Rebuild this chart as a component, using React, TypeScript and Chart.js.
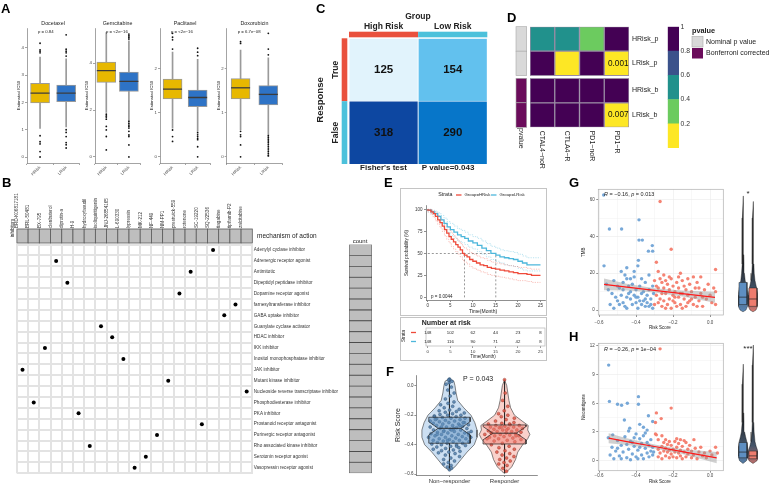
import React, { useEffect, useRef } from 'react';
import { Chart, registerables } from 'chart.js';

Chart.register(...registerables);
const FONT = "'Liberation Sans', Arial, Helvetica, sans-serif";
Chart.defaults.font.family = FONT;
Chart.defaults.color = '#333';
(Chart.defaults.plugins as any).legend.display = false;
(Chart.defaults.plugins as any).tooltip.enabled = false;

/* ================= DATA ================= */
// A — estimated IC50 box plots
const drugs = ['Docetaxel', 'Gemcitabine', 'Paclitaxel', 'Doxorubicin'];
const riskGroups = ['HRisk', 'LRisk'];
const drugPText = ['p = 0.84', 'p = <2e−16', 'p = <2e−16', 'p = 6.7e−08'];
// [lower whisker, Q1, median, Q3, upper whisker] for HRisk, LRisk
const docetaxelBox = [[1.05, 1.98, 2.34, 2.7, 3.66], [1.1, 2.03, 2.34, 2.64, 3.6]];
const gemcitabineBox = [[1.9, 3.18, 3.68, 4.05, 5.3], [1.55, 2.79, 3.22, 3.62, 4.95]];
const paclitaxelBox = [[0.65, 1.32, 1.54, 1.77, 2.38], [0.58, 1.14, 1.35, 1.52, 2.22]];
const doxorubicinBox = [[0.62, 1.32, 1.57, 1.78, 2.43], [0.5, 1.18, 1.42, 1.62, 2.25]];
const docetaxelOut = [[4.17, 3.93, 3.88, 3.82, 0.78, 0.56, 0.48, 0.2, 0.0], [4.48, 3.95, 3.88, 3.82, 3.7, 1.0, 0.9, 0.75, 0.53, 0.45, 0.33]];
const gemcitabineOut = [[1.82, 1.75, 1.7, 1.61, 1.3, 1.15, 0.87, 0.3], [5.24, 5.17, 5.11, 5.03, 1.51, 1.43, 1.36, 1.3, 1.23, 1.09, 0.94, 0.87, 0.51, 0.0]];
const paclitaxelOut = [[2.81, 2.72, 2.66, 2.45, 0.61, 0.46, 0.35], [2.47, 2.38, 2.3, 0.55, 0.5, 0.46, 0.42, 0.39, 0.23, 0.0]];
const doxorubicinOut = [[2.62, 2.58, 0.58, 0.5, 0.46, 0.27, 0.0], [2.81, 2.45, 2.32, 0.48, 0.44, 0.4, 0.36, 0.32, 0.28, 0.24, 0.2, 0.16, 0.12, 0.08, 0.04, 0.02]];
const icTicks = [[0, 1, 2, 3, 4], [0, 2, 4], [0, 1, 2], [0, 1, 2]];
const icLimits = [[-0.22, 4.73], [-0.26, 5.5], [-0.14, 2.93], [-0.14, 2.93]];

// B — connectivity map
const inhibitors = ['BRD-K06817181', 'BRL-50481', 'BX-795', 'clenbuterol', 'diprotin-a', 'H-9', 'hydroxyfasudil', 'isoliquiritigenin', 'JNJ-26854165', 'L-690330', 'lypressin', 'MK-212', 'NF-449', 'NM-PP1', 'prestwick-559', 'rotenone', 'SC-19220', 'SQ-22536', 'tiagabine', 'tipifarnib-P2', 'zalcitabine'];
const mechanisms = ['Adenylyl cyclase inhibitor', 'Adrenergic receptor agonist', 'Antimitotic', 'Dipeptidyl peptidase inhibitor', 'Dopamine receptor agonist', 'farnesyltransferase inhibitor', 'GABA uptake inhibitor', 'Guanylate cyclase activator', 'HDAC inhibitor', 'IKK inhibitor', 'Inositol monophosphatase inhibitor', 'JAK inhibitor', 'Mutant kinase inhibitor', 'Nucleoside reverse transcriptase inhibitor', 'Phosphodiesterase inhibitor', 'PKA inhibitor', 'Prostanoid receptor antagonist', 'Purinergic receptor antagonist', 'Rho associated kinase inhibitor', 'Serotonin receptor agonist', 'Vasopressin receptor agonist'];
const mechanismInhibitor = ['SQ-22536', 'clenbuterol', 'rotenone', 'diprotin-a', 'prestwick-559', 'tipifarnib-P2', 'tiagabine', 'isoliquiritigenin', 'JNJ-26854165', 'BX-795', 'L-690330', 'BRD-K06817181', 'NM-PP1', 'zalcitabine', 'BRL-50481', 'H-9', 'SC-19220', 'NF-449', 'hydroxyfasudil', 'MK-212', 'lypressin'];
const mechanismCount = [1, 1, 1, 1, 1, 1, 1, 1, 1, 1, 1, 1, 1, 1, 1, 1, 1, 1, 1, 1, 1];

// C — confusion table
const riskCols = ['High Risk', 'Low Risk'];
const trueCounts = [125, 154];
const falseCounts = [318, 290];

// D — p-value heatmap
const checkpoints = ['CTAL4−noR', 'CTLA4−R', 'PD1−noR', 'PD1−R'];
const hriskP = [0.5, 0.5, 0.3, 1];
const lriskP = [1, 0.1, 1, 0.001];
const hriskB = [1, 1, 1, 1];
const lriskB = [1, 1, 1, 0.007];
const colorbarBreaks = [0, 0.2, 0.4, 0.6, 0.8, 1];

// E — Kaplan-Meier
const hriskTime = [0, 0.7, 1.2, 1.7, 2.2, 2.7, 3.2, 3.7, 4.2, 4.7, 5.2, 5.7, 6.2, 6.7, 7.2, 7.7, 8.1, 8.7, 9.3, 10, 10.8, 11.6, 12.4, 13.2, 14.1, 15, 16, 17, 18, 19, 20, 21, 22, 23, 24, 25];
const hriskSurv = [100, 99, 97, 95, 92, 88, 85, 81, 77, 73, 69, 66, 63, 60, 57, 54, 50, 48, 46, 43, 41, 39, 37, 36, 34, 33, 32, 31, 30, 29, 28, 27, 27, 26, 25, 25];
const hriskUpper = [100, 100, 99, 98, 96, 93, 90, 87, 83, 80, 76, 73, 70, 67, 64, 61, 58, 56, 54, 51, 49, 47, 45, 44, 42, 40, 39, 38, 37, 36, 35, 34, 34, 33, 32, 32];
const hriskLower = [100, 97, 94, 91, 87, 83, 79, 75, 70, 66, 62, 58, 55, 52, 49, 46, 42, 40, 38, 35, 33, 31, 29, 28, 26, 25, 24, 23, 22, 21, 20, 19, 19, 18, 17, 17];
const lriskTime = [0, 0.8, 1.5, 2.2, 2.9, 3.6, 4.3, 5, 5.8, 6.6, 7.4, 8.2, 9, 10, 11, 12, 13, 14, 15.1, 16, 17, 18, 19, 20, 21, 22, 23, 24, 25];
const lriskSurv = [100, 99, 97, 95, 92, 88, 84, 80, 77, 74, 71, 69, 67, 64, 62, 59, 56, 53, 50, 48, 46, 45, 44, 43, 41, 39, 37, 37, 37];
const lriskUpper = [100, 100, 99, 98, 96, 93, 90, 86, 84, 81, 78, 76, 74, 71, 69, 67, 64, 61, 58, 56, 54, 53, 52, 51, 49, 47, 45, 45, 45];
const lriskLower = [100, 97, 95, 92, 88, 83, 78, 74, 70, 67, 64, 62, 60, 57, 55, 52, 49, 46, 43, 41, 39, 37, 36, 35, 33, 31, 30, 30, 30];
const medianSurvival = [8.1, 15.1];
const riskTimes = [0, 5, 10, 15, 20, 25];
const hriskAtRisk = [148, 102, 62, 44, 23, 8];
const lriskAtRisk = [148, 116, 90, 71, 42, 8];

// F — risk score by response
const responseGroups = ['Non−responder', 'Responder'];
const nonResponderBox = [-0.57, -0.39, -0.289, -0.214, 0.045];
const responderBox = [-0.59, -0.395, -0.322, -0.266, 0.04];
const nonResponderViolinY = [0.045, 0.03, 0.0, -0.05, -0.1, -0.15, -0.2, -0.25, -0.3, -0.35, -0.4, -0.45, -0.5, -0.55, -0.575];
const nonResponderViolinW = [0, 0.08, 0.1, 0.12, 0.15, 0.26, 0.39, 0.46, 0.5, 0.5, 0.45, 0.32, 0.21, 0.1, 0];
const responderViolinY = [0.04, 0.0, -0.05, -0.1, -0.15, -0.2, -0.24, -0.27, -0.3, -0.33, -0.36, -0.4, -0.45, -0.5, -0.55, -0.58, -0.595];
const responderViolinW = [0, 0.04, 0.06, 0.08, 0.11, 0.18, 0.32, 0.43, 0.42, 0.46, 0.42, 0.33, 0.24, 0.2, 0.13, 0.05, 0];
const nonResponderScores = [0.045, 0.04, 0.038, 0.03, 0.02, 0.01, -0.01, -0.03, -0.05, -0.07, -0.09, -0.11, -0.12, -0.13, -0.14, -0.15, -0.16, -0.165, -0.17, -0.175, -0.18, -0.185, -0.19, -0.195, -0.2, -0.2, -0.205, -0.21, -0.215, -0.22, -0.22, -0.225, -0.23, -0.235, -0.24, -0.24, -0.245, -0.25, -0.25, -0.255, -0.26, -0.26, -0.265, -0.27, -0.27, -0.275, -0.28, -0.28, -0.285, -0.29, -0.29, -0.295, -0.3, -0.3, -0.305, -0.31, -0.31, -0.315, -0.32, -0.32, -0.325, -0.33, -0.33, -0.335, -0.34, -0.34, -0.345, -0.35, -0.35, -0.355, -0.36, -0.36, -0.365, -0.37, -0.37, -0.375, -0.38, -0.38, -0.385, -0.39, -0.39, -0.395, -0.4, -0.4, -0.405, -0.41, -0.415, -0.42, -0.425, -0.43, -0.435, -0.44, -0.445, -0.45, -0.455, -0.46, -0.47, -0.48, -0.49, -0.5, -0.51, -0.52, -0.53, -0.54, -0.55, -0.56, -0.57, -0.23, -0.27, -0.31, -0.35, -0.29, -0.33, -0.25, -0.37, -0.21, -0.41, -0.28, -0.32, -0.3];
const responderScores = [0.04, -0.05, -0.1, -0.14, -0.17, -0.19, -0.2, -0.21, -0.22, -0.23, -0.24, -0.25, -0.255, -0.26, -0.265, -0.27, -0.27, -0.275, -0.28, -0.28, -0.285, -0.29, -0.29, -0.295, -0.3, -0.3, -0.305, -0.31, -0.31, -0.315, -0.32, -0.32, -0.325, -0.33, -0.33, -0.335, -0.34, -0.34, -0.345, -0.35, -0.355, -0.36, -0.365, -0.37, -0.375, -0.38, -0.39, -0.4, -0.41, -0.42, -0.43, -0.44, -0.45, -0.46, -0.47, -0.48, -0.49, -0.5, -0.51, -0.52, -0.53, -0.54, -0.56, -0.58, -0.3, -0.32, -0.34, -0.28, -0.36, -0.26];

// G — TMB vs risk score  [risk score, TMB]
const tmbLow = [[-0.575, 62.5], [-0.573, 24], [-0.544, 44], [-0.478, 44], [-0.384, 49], [-0.384, 38], [-0.366, 38], [-0.333, 32], [-0.31, 32], [-0.312, 35], [-0.387, 27], [-0.39, 24], [-0.56, 14], [-0.55, 11], [-0.53, 9], [-0.52, 16], [-0.5, 13], [-0.49, 12], [-0.47, 15], [-0.46, 19], [-0.45, 17], [-0.44, 13], [-0.43, 6], [-0.42, 14], [-0.41, 18], [-0.4, 11], [-0.4, 4], [-0.39, 7], [-0.38, 13], [-0.37, 17], [-0.37, 9], [-0.36, 5], [-0.35, 15], [-0.35, 2], [-0.34, 8], [-0.33, 11], [-0.33, 19], [-0.32, 6], [-0.32, 3], [-0.31, 13], [-0.31, 1], [-0.305, 9], [-0.48, 8], [-0.47, 4], [-0.46, 2], [-0.45, 7], [-0.44, 9], [-0.43, 10], [-0.42, 3], [-0.41, 8], [-0.4, 7], [-0.39, 1], [-0.38, 5], [-0.37, 3], [-0.36, 10], [-0.35, 6], [-0.34, 4], [-0.33, 2], [-0.52, 1], [-0.5, 5], [-0.49, 3], [-0.54, 3], [-0.51, 7], [-0.47, 11], [-0.45, 1], [-0.43, 17], [-0.41, 21], [-0.48, 21], [-0.45, 23]];
const tmbHigh = [[-0.27, 59], [-0.21, 33], [-0.29, 26], [0.03, 22], [-0.16, 20], [-0.09, 18], [-0.28, 21], [-0.27, 17], [-0.26, 15], [-0.25, 12], [-0.25, 19], [-0.24, 9], [-0.23, 14], [-0.22, 11], [-0.22, 6], [-0.21, 17], [-0.2, 8], [-0.2, 13], [-0.19, 4], [-0.19, 10], [-0.18, 15], [-0.17, 7], [-0.17, 12], [-0.16, 3], [-0.15, 9], [-0.15, 16], [-0.14, 6], [-0.13, 11], [-0.13, 2], [-0.12, 8], [-0.11, 14], [-0.11, 5], [-0.1, 10], [-0.09, 3], [-0.08, 7], [-0.08, 12], [-0.07, 15], [-0.06, 5], [-0.05, 9], [-0.04, 2], [-0.03, 11], [-0.02, 6], [0.0, 8], [0.01, 4], [0.02, 12], [0.03, 3], [-0.29, 8], [-0.28, 4], [-0.28, 12], [-0.27, 6], [-0.26, 2], [-0.26, 9], [-0.25, 5], [-0.24, 16], [-0.23, 3], [-0.22, 18], [-0.21, 1], [-0.2, 5], [-0.18, 2], [-0.17, 18], [-0.16, 9], [-0.14, 13], [-0.12, 4], [-0.1, 6], [-0.07, 2], [-0.06, 12], [-0.04, 7], [-0.01, 14], [0.03, 10], [-0.3, 16], [-0.3, 3], [-0.29, 13], [-0.24, 1], [-0.19, 7], [-0.15, 1], [-0.12, 17], [-0.05, 18]];
const tmbFitX = [-0.573, -0.45, -0.3, -0.15, 0.027];
const tmbFit = [13.9, 12.46, 10.71, 8.96, 6.9];
const tmbUpper = [17.1, 14.3, 11.9, 10.6, 9.9];
const tmbLower = [10.7, 10.6, 9.5, 7.3, 3.9];
const tmbLowViolinY = [-1, 0, 2, 5, 8, 12, 16, 20, 25, 30, 40, 50, 62];
const tmbLowViolinW = [0, 0.3, 0.45, 0.5, 0.48, 0.38, 0.22, 0.14, 0.1, 0.08, 0.07, 0.06, 0];
const tmbHighViolinY = [-1, 0, 2, 5, 8, 12, 16, 20, 25, 30, 40, 50, 59];
const tmbHighViolinW = [0, 0.3, 0.45, 0.5, 0.48, 0.36, 0.2, 0.12, 0.09, 0.07, 0.06, 0.05, 0];
const tmbSideBox = [[3, 7, 15], [2, 6, 12]];

// H — neoantigens vs risk score
const neoLow = [[-0.548, 10], [-0.544, 6.2], [-0.5, 5.9], [-0.478, 5.8], [-0.447, 6.0], [-0.387, 6.7], [-0.387, 5.9], [-0.463, 4.25], [-0.333, 4.7], [-0.31, 4.1], [-0.434, 3.4], [-0.38, 3.8], [-0.36, 3.5], [-0.526, 2.7], [-0.55, 2.4], [-0.54, 0.6], [-0.53, 1.4], [-0.52, 0.2], [-0.51, 1.0], [-0.5, 2.1], [-0.49, 0.5], [-0.48, 1.6], [-0.47, 0.9], [-0.46, 2.5], [-0.45, 0.3], [-0.44, 1.2], [-0.43, 2.0], [-0.42, 0.7], [-0.41, 1.5], [-0.4, 2.8], [-0.4, 0.4], [-0.39, 1.1], [-0.38, 2.3], [-0.37, 0.6], [-0.37, 1.8], [-0.36, 0.2], [-0.35, 1.3], [-0.35, 2.9], [-0.34, 0.8], [-0.34, 3.2], [-0.33, 1.6], [-0.33, 0.4], [-0.32, 2.2], [-0.32, 1.0], [-0.31, 0.6], [-0.31, 1.4], [-0.305, 0.9], [-0.45, 1.7], [-0.43, 0.1], [-0.41, 2.4], [-0.39, 0.2], [-0.36, 2.6], [-0.48, 0.2], [-0.44, 3.1], [-0.42, 1.9], [-0.5, 1.3], [-0.38, 1.4], [-0.34, 1.9]];
const neoHigh = [[-0.27, 11.7], [-0.29, 5.0], [-0.264, 4.4], [-0.21, 5.5], [-0.295, 4.0], [-0.295, 2.8], [-0.29, 2.7], [-0.087, 2.2], [0.03, 1.4], [-0.28, 1.2], [-0.28, 0.4], [-0.27, 0.8], [-0.26, 1.5], [-0.26, 0.2], [-0.25, 1.0], [-0.25, 1.9], [-0.24, 0.5], [-0.24, 1.3], [-0.23, 0.9], [-0.23, 1.7], [-0.22, 0.3], [-0.22, 1.1], [-0.21, 0.7], [-0.21, 1.6], [-0.2, 0.4], [-0.2, 1.2], [-0.19, 0.9], [-0.19, 2.0], [-0.18, 0.3], [-0.18, 1.4], [-0.17, 0.8], [-0.17, 1.8], [-0.16, 0.5], [-0.16, 1.1], [-0.15, 0.2], [-0.15, 1.5], [-0.14, 0.9], [-0.14, 2.1], [-0.13, 0.4], [-0.12, 1.2], [-0.12, 0.7], [-0.11, 1.6], [-0.1, 0.3], [-0.1, 1.0], [-0.09, 0.6], [-0.08, 1.3], [-0.07, 0.2], [-0.06, 0.9], [-0.05, 1.4], [-0.04, 0.5], [-0.03, 0.8], [-0.02, 0.3], [0.0, 1.0], [0.01, 0.6], [0.04, 0.8], [-0.28, 2.2], [-0.26, 2.6], [-0.24, 2.2], [-0.18, 2.3], [-0.13, 1.9], [-0.16, 2.2], [-0.22, 2.0]];
const neoFitX = [-0.548, -0.45, -0.3, -0.15, 0.036];
const neoFit = [2.35, 2.0, 1.48, 0.95, 0.3];
const neoUpper = [2.87, 2.35, 1.68, 1.2, 0.9];
const neoLower = [1.83, 1.65, 1.28, 0.7, -0.27];
const neoLowViolinY = [-0.3, 0, 0.5, 1, 1.5, 2, 2.5, 3, 4, 5, 6, 8, 10.1];
const neoLowViolinW = [0, 0.35, 0.5, 0.5, 0.45, 0.38, 0.26, 0.16, 0.1, 0.08, 0.07, 0.06, 0];
const neoHighViolinY = [-0.3, 0, 0.3, 0.6, 1, 1.5, 2, 3, 4, 6, 8, 10, 12.1];
const neoHighViolinW = [0, 0.4, 0.55, 0.55, 0.48, 0.32, 0.2, 0.11, 0.08, 0.07, 0.06, 0.05, 0];
const neoSideBox = [[0.3, 0.9, 1.9], [0.2, 0.5, 1.0]];

/* ================= STYLE ================= */
const groupFill = ['#E7B800', '#2E73C6'];
const viridisBins = ['#FDE725', '#6CCB5F', '#21918C', '#3B528B', '#440154'];
const pvalColor = (p: number) => viridisBins[Math.min(4, Math.floor(p / 0.2))];
const trueFill = ['#E1F3FC', '#62C1EE'];
const falseFill = ['#0D47A1', '#0776C9'];
const annRed = '#E9513D';
const annCyan = '#4CC1DB';
const kmRed = '#EE4A3A';
const kmBlue = '#4DB7DB';
const ptBlue = 'rgba(112,163,214,0.95)';
const ptRed = 'rgba(244,124,108,0.95)';

/* ================= HELPERS ================= */
type T = { t: string; x: number; y: number; s: number; b?: boolean; a?: CanvasTextAlign; c?: string; r?: number };
function txt(ctx: CanvasRenderingContext2D, items: T[]) {
  for (const it of items) {
    ctx.save();
    ctx.font = `${it.b ? 'bold ' : ''}${it.s}px ${FONT}`;
    ctx.fillStyle = it.c || '#222';
    ctx.textAlign = it.a || 'center';
    ctx.textBaseline = 'middle';
    ctx.translate(it.x, it.y);
    if (it.r) ctx.rotate((it.r * Math.PI) / 180);
    ctx.fillText(it.t, 0, 0);
    ctx.restore();
  }
}
function rich(ctx: CanvasRenderingContext2D, segs: [string, boolean][], x: number, y: number, s: number) {
  let cx = x;
  ctx.save();
  ctx.fillStyle = '#222';
  ctx.textAlign = 'left';
  ctx.textBaseline = 'middle';
  for (const [t, it] of segs) {
    ctx.font = `${it ? 'italic ' : ''}${s}px ${FONT}`;
    ctx.fillText(t, cx, y);
    cx += ctx.measureText(t).width;
  }
  ctx.restore();
}
const deco = (after?: (c: any) => void, before?: (c: any) => void) => ({
  id: 'deco',
  beforeDatasetsDraw(c: any) { if (before) before(c); },
  afterDraw(c: any) { if (after) after(c); },
});
const tickGrid = (color = '#444') => ({ display: true, drawOnChartArea: false, tickLength: 2, color, lineWidth: 0.6 });
const axisBorder = (color = '#444') => ({ display: true, color, width: 0.6 });
const fixTicks = (vals: number[]) => (s: any) => { s.ticks = vals.map((v) => ({ value: v })); };
const fixW = (w: number) => (s: any) => { s.width = w; };
const fixH = (h: number) => (s: any) => { s.height = h; };
const minusFmt = (d: number) => (v: any) => (Number(v) < -1e-9 ? '−' : '') + Math.abs(Number(v)).toFixed(d);
function interpW(ys: number[], ws: number[], y: number) {
  for (let k = 0; k < ys.length - 1; k++) {
    const y0 = ys[k], y1 = ys[k + 1];
    if ((y <= y0 && y >= y1) || (y >= y0 && y <= y1)) {
      const t = y1 === y0 ? 0 : (y - y0) / (y1 - y0);
      return ws[k] + t * (ws[k + 1] - ws[k]);
    }
  }
  return 0;
}
function violinPts(cx: number, ys: number[], ws: number[]) {
  const right = ys.map((y, k) => ({ x: cx + ws[k], y }));
  const left = ys.map((y, k) => ({ x: cx - ws[k], y })).reverse();
  const pts = [...right, ...left];
  pts.push(pts[0]);
  return pts;
}
function notchedBox(cx: number, s: number[], hw: number, n: number) {
  const [, q1, md, q3] = s;
  const iw = hw * 0.55;
  return [
    { x: cx - hw, y: q1 }, { x: cx - hw, y: md - n }, { x: cx - iw, y: md }, { x: cx - hw, y: md + n }, { x: cx - hw, y: q3 },
    { x: cx + hw, y: q3 }, { x: cx + hw, y: md + n }, { x: cx + iw, y: md }, { x: cx + hw, y: md - n }, { x: cx + hw, y: q1 },
    { x: cx - hw, y: q1 },
  ];
}
const poly = (data: any[], fill: any, stroke: string, lw: number, order: number) => ({
  type: 'line', data, fill: 'shape', backgroundColor: fill, borderColor: stroke, borderWidth: lw, pointRadius: 0, tension: 0, order,
});
const seg = (data: any[], color: string, lw: number, order: number, dash: number[] = []) => ({
  type: 'line', data, fill: false, borderColor: color, borderWidth: lw, borderDash: dash, pointRadius: 0, tension: 0, order,
});

/* ================= CHART CONFIGS ================= */
const A_LAYOUT = [[5, 27, 85, 85], [73, 95, 146.7, 78], [138, 160, 216.7, 83], [205, 226.7, 288.3, 88]];
function makeBox(i: number) {
  const stats = [docetaxelBox, gemcitabineBox, paclitaxelBox, doxorubicinBox][i];
  const outs = [docetaxelOut, gemcitabineOut, paclitaxelOut, doxorubicinOut][i];
  const [cl, al, ar, cw] = A_LAYOUT[i];
  return {
    type: 'bar',
    data: {
      labels: riskGroups,
      datasets: [
        { type: 'scatter', order: 0, data: outs.flatMap((arr, g) => arr.map((v) => ({ x: riskGroups[g], y: v }))), pointRadius: 0.9, backgroundColor: '#111', borderWidth: 0 },
        { type: 'scatter', order: 1, data: stats.map((s, g) => ({ x: riskGroups[g], y: s[2] })), pointStyle: 'line', pointRadius: 9.5, borderColor: '#3c3c3c', borderWidth: 1.3 },
        { type: 'bar', order: 2, data: stats.map((s) => [s[1], s[3]]), backgroundColor: groupFill, borderColor: '#9a9a9a', borderWidth: 1, borderSkipped: false, barThickness: 19, grouped: false },
        { type: 'bar', order: 3, data: stats.map((s) => [s[0], s[4]]), backgroundColor: '#9a9a9a', barThickness: 1, grouped: false },
      ],
    },
    options: {
      layout: { padding: { left: 0, top: 14, right: cl + cw - ar, bottom: 0 } },
      scales: {
        x: { offset: true, grid: tickGrid('#666'), border: axisBorder('#666'), ticks: { font: { size: 4.3 }, color: '#444', minRotation: 45, maxRotation: 45, padding: 0, autoSkip: false }, afterFit: fixH(23) },
        y: { min: icLimits[i][0], max: icLimits[i][1], afterBuildTicks: fixTicks(icTicks[i]), grid: tickGrid('#666'), border: axisBorder('#666'), ticks: { font: { size: 4.3 }, color: '#444', padding: 1 }, afterFit: fixW(al - cl) },
      },
    },
    plugins: [deco((c) => {
      const a = c.chartArea;
      txt(c.ctx, [
        { t: drugs[i], x: (a.left + a.right) / 2, y: 9.3, s: 5.3 },
        { t: drugPText[i], x: a.left + 11, y: 18.3, s: 4.3, a: 'left' },
        { t: 'Estimated IC50', x: al - cl - 8, y: (a.top + a.bottom) / 2, s: 4.3, r: -90 },
      ]);
    })],
  };
}

function makeCmap() {
  const g = { display: true, offset: true, color: '#E3E3E3', lineWidth: 2, drawTicks: false };
  return {
    type: 'scatter',
    data: { datasets: [{ data: mechanisms.map((m, k) => ({ x: mechanismInhibitor[k], y: m })), pointRadius: 2, backgroundColor: '#000', borderWidth: 0 }] },
    options: {
      layout: { padding: { left: 16.7, top: 0, right: 0, bottom: 11.8 } },
      scales: {
        x: { type: 'category', labels: inhibitors, position: 'top', offset: true, grid: g, border: { display: true, color: '#E3E3E3', width: 2 }, ticks: { font: { size: 4.6 }, color: '#333', minRotation: 90, maxRotation: 90, autoSkip: false, padding: 16.6 }, afterFit: fixH(72.6) },
        y: { type: 'category', labels: mechanisms, position: 'right', offset: true, grid: g, border: { display: true, color: '#E3E3E3', width: 2 }, ticks: { font: { size: 4.6 }, color: '#333', autoSkip: false, padding: 1.5 }, afterFit: fixW(97.7) },
      },
    },
    plugins: [deco((c) => {
      const ctx = c.ctx, a = c.chartArea, xs = c.scales.x;
      const pitch = (a.right - a.left) / inhibitors.length;
      ctx.save();
      inhibitors.forEach((_, k) => {
        const cx = xs.getPixelForValue(k);
        ctx.fillStyle = '#BEBEBE';
        ctx.fillRect(cx - pitch / 2, a.top - 15.6, pitch, 14);
        ctx.strokeStyle = '#5A5A5A';
        ctx.lineWidth = 0.8;
        ctx.strokeRect(cx - pitch / 2, a.top - 15.6, pitch, 14);
      });
      ctx.restore();
      txt(ctx, [
        { t: 'inhibitors', x: 13, y: 56, s: 4.6, r: -90 },
        { t: 'mechanism of action', x: 257, y: 64, s: 6.5, a: 'left' },
      ]);
    })],
  };
}

function makeCount() {
  return {
    type: 'bar',
    data: { labels: mechanisms, datasets: [{ data: mechanismCount, backgroundColor: '#BEBEBE', borderColor: '#4D4D4D', borderWidth: 0.8, barPercentage: 1, categoryPercentage: 1, borderSkipped: false }] },
    options: {
      indexAxis: 'y',
      layout: { padding: { left: 9, right: 8, top: 14.6, bottom: 6.8 } },
      scales: { x: { display: false, min: 0, max: 1 }, y: { display: false } },
    },
    plugins: [deco((c) => txt(c.ctx, [{ t: 'count', x: 20, y: 11, s: 6 }]))],
  };
}

function makeConf() {
  return {
    type: 'bar',
    data: {
      labels: riskCols,
      datasets: [
        { label: 'False', data: [1, 1], backgroundColor: falseFill, borderColor: '#fff', borderWidth: 0.8, barPercentage: 1, categoryPercentage: 1 },
        { label: 'True', data: [1, 1], backgroundColor: trueFill, borderColor: '#fff', borderWidth: 0.8, barPercentage: 1, categoryPercentage: 1 },
      ],
    },
    options: {
      layout: { padding: { left: 37, right: 14.7, top: 38.3, bottom: 16 } },
      scales: { x: { display: false, stacked: true }, y: { display: false, stacked: true, min: 0, max: 2 } },
    },
    plugins: [deco((c) => {
      const ctx = c.ctx, a = c.chartArea;
      const mF = c.getDatasetMeta(0).data, mT = c.getDatasetMeta(1).data;
      const cols = [annRed, annCyan];
      ctx.save();
      mT.forEach((el: any, j: number) => { ctx.fillStyle = cols[j]; ctx.fillRect(el.x - el.width / 2, a.top - 6.6, el.width, 5.6); });
      [mT[0], mF[0]].forEach((el: any, r: number) => { ctx.fillStyle = cols[r]; ctx.fillRect(a.left - 7.3, el.y, 5.6, el.base - el.y); });
      ctx.restore();
      const items: T[] = [];
      mT.forEach((el: any, j: number) => items.push({ t: String(trueCounts[j]), x: el.x, y: (el.y + el.base) / 2, s: 11.5, b: true, c: '#111' }));
      mF.forEach((el: any, j: number) => items.push({ t: String(falseCounts[j]), x: el.x, y: (el.y + el.base) / 2, s: 11.5, b: true, c: '#111' }));
      items.push({ t: 'Group', x: 106, y: 17, s: 8.5, b: true });
      mT.forEach((el: any, j: number) => items.push({ t: riskCols[j], x: el.x, y: 27, s: 8.5, b: true }));
      items.push({ t: 'True', x: 24, y: (mT[0].y + mT[0].base) / 2, s: 8.5, b: true, r: -90 });
      items.push({ t: 'False', x: 24, y: (mF[0].y + mF[0].base) / 2, s: 8.5, b: true, r: -90 });
      items.push({ t: 'Response', x: 8, y: 100, s: 9.5, b: true, r: -90 });
      items.push({ t: "Fisher's test", x: 71.5, y: 168, s: 8, b: true });
      items.push({ t: 'P value=0.043', x: 136, y: 168, s: 8, b: true });
      txt(ctx, items);
    })],
  };
}

function makeHeat() {
  const rowsBottomUp = [lriskB, hriskB, null, lriskP, hriskP];
  const ds = rowsBottomUp.map((p) => p
    ? { data: [1, 1, 1, 1], backgroundColor: p.map(pvalColor), borderColor: 'rgba(150,135,160,0.95)', borderWidth: 1, barPercentage: 1, categoryPercentage: 1, borderSkipped: false }
    : { data: [0.107, 0.107, 0.107, 0.107], backgroundColor: 'rgba(0,0,0,0)', borderWidth: 0, barPercentage: 1, categoryPercentage: 1 });
  return {
    type: 'bar',
    data: { labels: checkpoints, datasets: ds },
    options: {
      layout: { padding: { left: 30, right: 150, top: 26.7, bottom: 52.7 } },
      scales: { x: { display: false, stacked: true }, y: { display: false, stacked: true, min: 0, max: 4.107 } },
    },
    plugins: [deco((c) => {
      const ctx = c.ctx, a = c.chartArea;
      const rows = [
        { ds: 4, p: hriskP, l: 'HRisk_p', adj: false },
        { ds: 3, p: lriskP, l: 'LRisk_p', adj: false },
        { ds: 1, p: hriskB, l: 'HRisk_b', adj: true },
        { ds: 0, p: lriskB, l: 'LRisk_b', adj: true },
      ];
      const items: T[] = [];
      ctx.save();
      rows.forEach((r) => {
        const els = c.getDatasetMeta(r.ds).data;
        const yc = (els[0].y + els[0].base) / 2;
        items.push({ t: r.l, x: a.right + 3, y: yc, s: 7, a: 'left' });
        r.p.forEach((p, j) => { if (p < 0.05) items.push({ t: p.toFixed(3), x: els[j].x + els[j].width / 2 - 0.5, y: yc, s: 8.2, a: 'right', c: '#111' }); });
        ctx.fillStyle = r.adj ? '#6B0C5B' : '#D9D9D9';
        ctx.fillRect(16, els[0].y, 10.7, els[0].base - els[0].y);
        ctx.strokeStyle = '#A8A8A8';
        ctx.lineWidth = 0.6;
        ctx.strokeRect(16, els[0].y, 10.7, els[0].base - els[0].y);
      });
      c.getDatasetMeta(0).data.forEach((el: any, j: number) => items.push({ t: checkpoints[j], x: el.x, y: a.bottom + 3.4, s: 7, a: 'left', r: 90 }));
      items.push({ t: 'pvalue', x: 21.3, y: 128, s: 7, a: 'left', r: 90 });
      items.push({ t: 'pvalue', x: 192, y: 30.5, s: 7.3, a: 'left', b: true });
      items.push({ t: 'Nominal p value', x: 206, y: 41.7, s: 7, a: 'left' });
      items.push({ t: 'Bonferroni corrected', x: 206, y: 53.3, s: 7, a: 'left' });
      ctx.fillStyle = '#D9D9D9';
      ctx.fillRect(192, 36.5, 11, 10.5);
      ctx.fillStyle = '#6B0C5B';
      ctx.fillRect(192, 48, 11, 10.5);
      ctx.strokeStyle = '#A8A8A8';
      ctx.strokeRect(192, 36.5, 11, 10.5);
      ctx.restore();
      txt(ctx, items);
    })],
  };
}

function makeColorbar() {
  return {
    type: 'bar',
    data: {
      labels: [''],
      datasets: viridisBins.map((col, k) => ({ data: [[colorbarBreaks[k], colorbarBreaks[k + 1]]], backgroundColor: col, borderWidth: 0, barPercentage: 1, categoryPercentage: 1, grouped: false })),
    },
    options: {
      layout: { padding: { left: 27.7, right: 0, top: 16.7, bottom: 22 } },
      scales: {
        x: { display: false },
        y: { position: 'right', min: 0, max: 1, afterBuildTicks: fixTicks(colorbarBreaks.slice(1)), grid: { display: false, drawTicks: false, tickLength: 0 }, border: { display: false }, ticks: { font: { size: 6.8 }, color: '#333', padding: 1.5, callback: (v: any) => (Number(v) === 1 ? '1' : Number(v).toFixed(1)) }, afterFit: fixW(21) },
      },
    },
  };
}

function makeKM() {
  const km = (t: number[], s: number[], color: string, w: number, order: number, dash: number[] = []) => ({
    type: 'line', data: t.map((x, k) => ({ x, y: s[k] })), borderColor: color, borderWidth: w, borderDash: dash, stepped: 'after', pointRadius: 0, fill: false, order,
  });
  const dashed = [seg([{ x: 0, y: 50 }, { x: medianSurvival[1], y: 50 }], '#555', 0.6, 5, [2, 2])].concat(
    medianSurvival.map((m) => seg([{ x: m, y: 0 }, { x: m, y: 50 }], '#555', 0.6, 5, [2, 2])));
  return {
    type: 'scatter',
    data: {
      datasets: [
        km(hriskTime, hriskSurv, kmRed, 1.3, 0),
        km(lriskTime, lriskSurv, kmBlue, 1.3, 1),
        km(hriskTime, hriskUpper, 'rgba(238,74,58,0.5)', 0.7, 2, [1.2, 1.2]),
        km(hriskTime, hriskLower, 'rgba(238,74,58,0.5)', 0.7, 2, [1.2, 1.2]),
        km(lriskTime, lriskUpper, 'rgba(77,183,219,0.55)', 0.7, 3, [1.2, 1.2]),
        km(lriskTime, lriskLower, 'rgba(77,183,219,0.55)', 0.7, 3, [1.2, 1.2]),
        ...dashed,
      ],
    },
    options: {
      layout: { padding: { left: 0, top: 17.8, right: 2, bottom: 0 } },
      scales: {
        x: { min: -0.4, max: 26, afterBuildTicks: fixTicks(riskTimes), grid: tickGrid('#444'), border: axisBorder('#444'), ticks: { font: { size: 4.5 }, color: '#333', padding: 1 }, afterFit: fixH(16) },
        y: { min: -3, max: 104, afterBuildTicks: fixTicks([0, 25, 50, 75, 100]), grid: tickGrid('#444'), border: axisBorder('#444'), ticks: { font: { size: 4.5 }, color: '#333', padding: 1.5 }, afterFit: fixW(26) },
      },
    },
    plugins: [deco((c) => {
      const ctx = c.ctx;
      ctx.save();
      ctx.strokeStyle = '#C4C4C4';
      ctx.lineWidth = 1;
      ctx.strokeRect(0.5, 0.5, c.width - 1, c.height - 1);
      ctx.lineWidth = 1.3;
      ctx.strokeStyle = kmRed;
      ctx.beginPath(); ctx.moveTo(56, 7); ctx.lineTo(61.5, 7); ctx.stroke();
      ctx.strokeStyle = kmBlue;
      ctx.beginPath(); ctx.moveTo(91, 7); ctx.lineTo(96.5, 7); ctx.stroke();
      ctx.restore();
      txt(ctx, [
        { t: 'Strata', x: 38.3, y: 7, s: 5.3, a: 'left' },
        { t: 'Group=HRisk', x: 64.5, y: 7, s: 4.3, a: 'left' },
        { t: 'Group=LRisk', x: 99.5, y: 7, s: 4.3, a: 'left' },
        { t: 'Survival probability (%)', x: 6.7, y: 65, s: 4.5, r: -90 },
        { t: 'Time(Month)', x: 83, y: 124, s: 5 },
        { t: 'p = 0.0044', x: 31, y: 108.5, s: 4.5, a: 'left' },
      ]);
    })],
  };
}

function makeRiskTable() {
  return {
    type: 'scatter',
    data: {
      datasets: [
        { data: riskTimes.map((t) => ({ x: t, y: riskGroups[0] })), pointRadius: 0 },
        { data: riskTimes.map((t) => ({ x: t, y: riskGroups[1] })), pointRadius: 0 },
      ],
    },
    options: {
      layout: { padding: { left: 26, top: 11, right: 2, bottom: 0 } },
      scales: {
        x: { min: -0.4, max: 26, afterBuildTicks: fixTicks(riskTimes), grid: tickGrid('#555'), border: { display: false }, ticks: { font: { size: 4.3 }, color: '#333', padding: 1 }, afterFit: fixH(15) },
        y: { type: 'category', labels: riskGroups, offset: true, display: false },
      },
    },
    plugins: [deco((c) => {
      const ctx = c.ctx, a = c.chartArea;
      ctx.save();
      ctx.strokeStyle = '#C4C4C4';
      ctx.lineWidth = 1;
      ctx.strokeRect(0.5, 0.5, c.width - 1, c.height - 1);
      ctx.strokeStyle = '#BDBDBD';
      ctx.lineWidth = 0.8;
      ctx.strokeRect(a.left, a.top, a.right - a.left, a.bottom - a.top);
      const items: T[] = [];
      [hriskAtRisk, lriskAtRisk].forEach((vals, g) => {
        const els = c.getDatasetMeta(g).data;
        els.forEach((el: any, k: number) => items.push({ t: String(vals[k]), x: el.x, y: el.y, s: 4.3 }));
        ctx.strokeStyle = g === 0 ? kmRed : kmBlue;
        ctx.lineWidth = 1.3;
        ctx.beginPath(); ctx.moveTo(11, els[0].y); ctx.lineTo(16, els[0].y); ctx.stroke();
      });
      ctx.restore();
      items.push({ t: 'Number at risk', x: 21.7, y: 6, s: 7, b: true, a: 'left' });
      items.push({ t: 'Strata', x: 3.8, y: 19, s: 4.5, r: -90 });
      items.push({ t: 'Time(Month)', x: 83, y: 40, s: 4.5 });
      txt(ctx, items);
    })],
  };
}

function makeViolinF() {
  const ds: any[] = [];
  const groups = [
    { cx: 1, stats: nonResponderBox, vy: nonResponderViolinY, vw: nonResponderViolinW, scores: nonResponderScores, violin: 'rgba(170,202,233,0.6)', box: 'rgba(96,145,194,0.5)', pt: 'rgba(84,128,174,0.85)', ptb: '#2c4966', hw: 0.375 },
    { cx: 2, stats: responderBox, vy: responderViolinY, vw: responderViolinW, scores: responderScores, violin: 'rgba(247,178,168,0.6)', box: 'rgba(240,128,115,0.5)', pt: 'rgba(226,88,72,0.85)', ptb: '#8a3026', hw: 0.39 },
  ];
  groups.forEach((g) => {
    ds.push(poly(violinPts(g.cx, g.vy, g.vw), g.violin, '#333', 0.6, 6));
    ds.push(seg([{ x: g.cx, y: g.stats[4] }, { x: g.cx, y: g.stats[3] }], '#222', 0.7, 5));
    ds.push(seg([{ x: g.cx, y: g.stats[1] }, { x: g.cx, y: g.stats[0] }], '#222', 0.7, 5));
    ds.push({
      type: 'scatter', order: 4, pointRadius: 1.5, backgroundColor: g.pt, borderColor: g.ptb, borderWidth: 0.4,
      data: g.scores.map((v, i) => ({ x: g.cx + (((i * 0.618034) % 1) * 2 - 1) * 0.8 * interpW(g.vy, g.vw, v), y: v })),
    });
    ds.push(poly(notchedBox(g.cx, g.stats, g.hw, 0.045), g.box, '#222', 0.7, 3));
    ds.push(seg([{ x: g.cx - g.hw * 0.55, y: g.stats[2] }, { x: g.cx + g.hw * 0.55, y: g.stats[2] }], '#222', 0.9, 2));
  });
  return {
    type: 'scatter',
    data: { datasets: ds },
    options: {
      layout: { padding: { left: 0, top: 7, right: 2.4, bottom: 0 } },
      scales: {
        x: { min: 0.4, max: 2.6, afterBuildTicks: fixTicks([1, 2]), grid: tickGrid('#444'), border: axisBorder('#444'), ticks: { font: { size: 6 }, color: '#333', padding: 1, callback: (v: any) => responseGroups[Math.round(Number(v)) - 1] }, afterFit: fixH(10) },
        y: { min: -0.605, max: 0.072, afterBuildTicks: fixTicks([-0.6, -0.4, -0.2, 0]), grid: tickGrid('#444'), border: axisBorder('#444'), ticks: { font: { size: 4.5 }, color: '#333', padding: 1, callback: minusFmt(1) }, afterFit: fixW(26.4) },
      },
    },
    plugins: [deco((c) => txt(c.ctx, [
      { t: 'Risk Score', x: 8, y: 57, s: 7, r: -90 },
      { t: 'P = 0.043', x: 73, y: 11, s: 7, a: 'left' },
    ]))],
  };
}

function makeCorr(p: any) {
  const isMajorX = (v: number) => Math.round(v * 10) % 2 === 0;
  const isMajorY = (v: number) => Math.abs(v / p.yMajor - Math.round(v / p.yMajor)) < 1e-6;
  const band = [...p.fitX.map((x: number, k: number) => ({ x, y: p.upper[k] })), ...p.fitX.map((x: number, k: number) => ({ x, y: p.lower[k] })).reverse()];
  return {
    type: 'scatter',
    data: {
      datasets: [
        seg(p.fitX.map((x: number, k: number) => ({ x, y: p.fit[k] })), '#FF1A1A', 1.2, 0),
        poly(band, 'rgba(150,150,150,0.45)', 'rgba(0,0,0,0)', 0, 1),
        { type: 'scatter', order: 2, data: p.high.map((d: number[]) => ({ x: d[0], y: d[1] })), pointRadius: 1.7, backgroundColor: ptRed, borderWidth: 0 },
        { type: 'scatter', order: 3, data: p.low.map((d: number[]) => ({ x: d[0], y: d[1] })), pointRadius: 1.7, backgroundColor: ptBlue, borderWidth: 0 },
      ],
    },
    options: {
      layout: { padding: { left: 0, top: p.padTop, right: 6.7, bottom: 0 } },
      scales: {
        x: {
          min: -0.604, max: 0.0718, afterBuildTicks: fixTicks([-0.6, -0.5, -0.4, -0.3, -0.2, -0.1, 0]),
          grid: { color: '#EBEBEB', lineWidth: (x: any) => (x.tick && isMajorX(x.tick.value) ? 0.6 : 0.35), tickLength: 2, tickColor: (x: any) => (x.tick && isMajorX(x.tick.value) ? '#444' : 'rgba(0,0,0,0)') },
          border: { display: false },
          ticks: { font: { size: 4.5 }, color: '#444', padding: p.xPad, callback: (v: any) => (isMajorX(Number(v)) ? minusFmt(1)(v) : '') },
          afterFit: fixH(p.xH),
        },
        y: {
          min: p.yMin, max: p.yMax, afterBuildTicks: fixTicks(p.yTicks),
          grid: { color: '#EBEBEB', lineWidth: (x: any) => (x.tick && isMajorY(x.tick.value) ? 0.6 : 0.35), tickLength: 2, tickColor: (x: any) => (x.tick && isMajorY(x.tick.value) ? '#444' : 'rgba(0,0,0,0)') },
          border: { display: false },
          ticks: { font: { size: 4.5 }, color: '#444', padding: 1.5, callback: (v: any) => (isMajorY(Number(v)) ? String(Math.round(Number(v))) : '') },
          afterFit: fixW(38.3),
        },
      },
    },
    plugins: [deco((c) => {
      const ctx = c.ctx, a = c.chartArea;
      ctx.save();
      ctx.strokeStyle = '#B0B0B0';
      ctx.lineWidth = 0.7;
      ctx.strokeRect(a.left, a.top, a.right - a.left, a.bottom - a.top);
      ctx.restore();
      rich(ctx, p.label, 44, p.labelY, 5.5);
      txt(ctx, [
        { t: p.yTitle, x: 23.5, y: (a.top + a.bottom) / 2, s: 4.5, r: -90 },
        { t: 'Risk Score', x: 100, y: p.xTitleY, s: 4.5 },
      ]);
    })],
  };
}

function makeSide(p: any) {
  const colors = ['#5E8FC2', '#EE7C6E'];
  const grad = (col: string) => (cx: any) => {
    const a = cx.chart.chartArea;
    if (!a) return col;
    const g = cx.chart.ctx.createLinearGradient(0, a.top, 0, a.bottom);
    g.addColorStop(0, '#000');
    g.addColorStop(0.55, '#1a1a1a');
    g.addColorStop(0.8, '#44556a');
    g.addColorStop(1, col);
    return g;
  };
  const ds: any[] = [];
  [[p.lowY, p.lowW], [p.highY, p.highW]].forEach(([ys, ws]: any, k: number) => {
    const cx = k + 1;
    const [q1, md, q3] = p.box[k];
    ds.push(poly(violinPts(cx, ys, ws), grad(colors[k]), '#111', 0.4, 3));
    ds.push(poly([{ x: cx - 0.4, y: q1 }, { x: cx - 0.4, y: q3 }, { x: cx + 0.4, y: q3 }, { x: cx + 0.4, y: q1 }, { x: cx - 0.4, y: q1 }], colors[k], '#222', 0.5, 2));
    ds.push(seg([{ x: cx - 0.4, y: md }, { x: cx + 0.4, y: md }], '#222', 0.7, 1));
  });
  return {
    type: 'scatter',
    data: { datasets: ds },
    options: {
      layout: { padding: { left: 8, right: 12, top: p.padTop, bottom: p.padBottom } },
      scales: { x: { display: false, min: 0.5, max: 2.5 }, y: { display: false, min: p.yMin, max: p.yMax } },
    },
    plugins: [deco((c) => txt(c.ctx, [{ t: p.star, x: 18, y: p.starY, s: 8 }]))],
  };
}

/* ================= COMPONENTS ================= */
function ChartCanvas({ x, y, w, h, make }: any) {
  const ref = useRef<HTMLCanvasElement>(null);
  useEffect(() => {
    const cfg: any = make();
    cfg.options = { responsive: false, maintainAspectRatio: false, animation: false, events: [], devicePixelRatio: 1, ...cfg.options };
    const chart = new Chart(ref.current as HTMLCanvasElement, cfg);
    return () => chart.destroy();
  }, []);
  return <canvas ref={ref} width={w} height={h} style={{ position: 'absolute', left: x, top: y, width: w, height: h }} />;
}

const panelLetters: [string, number, number][] = [['A', 1, 4], ['B', 2, 178], ['C', 316, 4], ['D', 507, 13], ['E', 384, 178], ['F', 386, 367], ['G', 569, 178], ['H', 569, 332]];

export default function App() {
  return (
    <div style={{ position: 'absolute', left: 0, top: 0, width: 779, height: 485, background: '#fff', overflow: 'hidden' }}>
      {A_LAYOUT.map((l, i) => (
        <ChartCanvas key={'a' + i} x={l[0]} y={14} w={l[3]} h={172} make={() => makeBox(i)} />
      ))}
      <ChartCanvas x={0} y={172} w={350} h={313} make={makeCmap} />
      <ChartCanvas x={340} y={230} w={40} h={250} make={makeCount} />
      <ChartCanvas x={312} y={0} w={190} h={180} make={makeConf} />
      <ChartCanvas x={500} y={0} w={279} h={180} make={makeHeat} />
      <ChartCanvas x={640} y={10} w={60} h={160} make={makeColorbar} />
      <ChartCanvas x={400} y={188} w={147} h={128} make={makeKM} />
      <ChartCanvas x={400} y={317} w={147} h={44} make={makeRiskTable} />
      <ChartCanvas x={390} y={368} w={152} h={117} make={makeViolinF} />
      <ChartCanvas x={560} y={185} w={170} h={150} make={() => makeCorr({
        low: tmbLow, high: tmbHigh, fitX: tmbFitX, fit: tmbFit, upper: tmbUpper, lower: tmbLower,
        yMin: -2.7, yMax: 65.6, yTicks: [0, 10, 20, 30, 40, 50, 60], yMajor: 20, padTop: 4.3, xH: 20, xPad: 3,
        yTitle: 'TMB', xTitleY: 143, labelY: 9.3,
        label: [['R', true], [' = −0.16, ', false], ['p', true], [' = 0.013', false]],
      })} />
      <ChartCanvas x={730} y={185} w={40} h={150} make={() => makeSide({
        lowY: tmbLowViolinY, lowW: tmbLowViolinW, highY: tmbHighViolinY, highW: tmbHighViolinW, box: tmbSideBox,
        yMin: -2.7, yMax: 65.6, padTop: 4.3, padBottom: 20, star: '*', starY: 9,
      })} />
      <ChartCanvas x={560} y={338} w={170} h={147} make={() => makeCorr({
        low: neoLow, high: neoHigh, fitX: neoFitX, fit: neoFit, upper: neoUpper, lower: neoLower,
        yMin: -1.05, yMax: 12.28, yTicks: [0, 1.5, 3, 4.5, 6, 7.5, 9, 10.5, 12], yMajor: 3, padTop: 5.3, xH: 14.3, xPad: 0,
        yTitle: 'Neoantigens', xTitleY: 143.7, labelY: 11,
        label: [['R', true], [' = −0.26, ', false], ['p', true], [' = 1e−04', false]],
      })} />
      <ChartCanvas x={730} y={338} w={40} h={147} make={() => makeSide({
        lowY: neoLowViolinY, lowW: neoLowViolinW, highY: neoHighViolinY, highW: neoHighViolinW, box: neoSideBox,
        yMin: -1.05, yMax: 12.28, padTop: 5.3, padBottom: 14.3, star: '***', starY: 11,
      })} />
      {panelLetters.map(([t, x, y]) => (
        <div key={t} style={{ position: 'absolute', left: x, top: y - 1.7, font: `bold 13px ${FONT}`, lineHeight: '13px', color: '#000' }}>{t}</div>
      ))}
    </div>
  );
}
